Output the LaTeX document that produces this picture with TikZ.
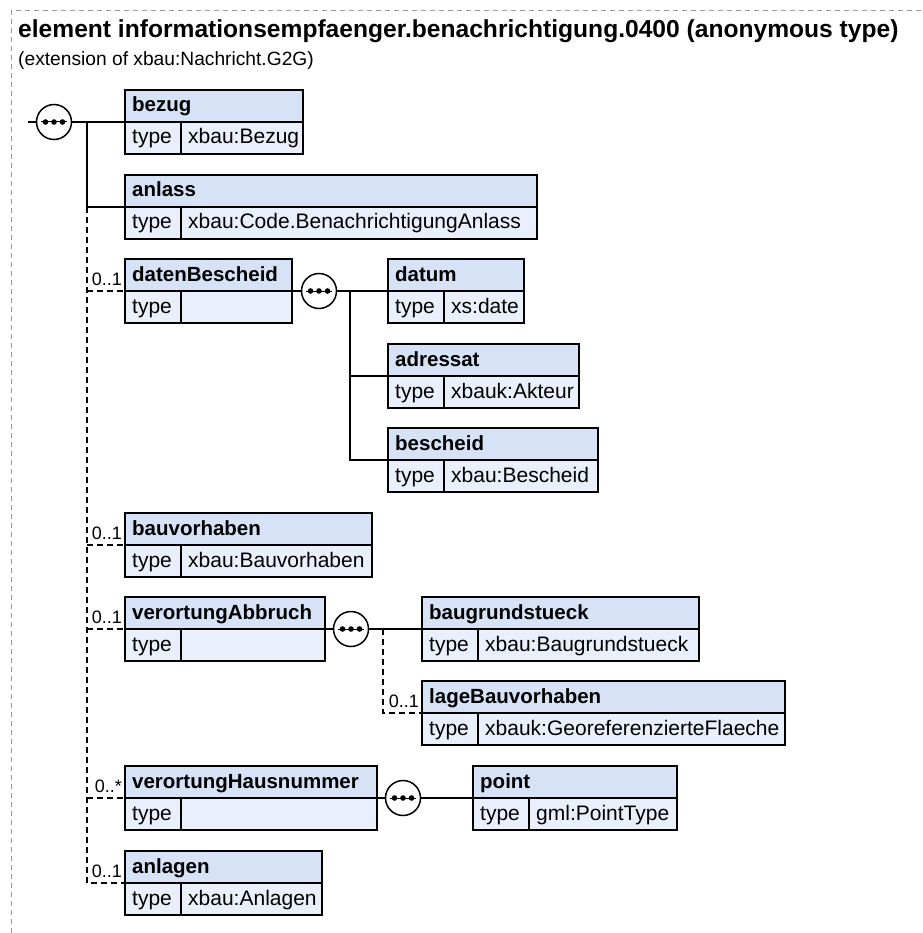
\documentclass[tikz,border=0pt]{standalone}
\usepackage{fontspec}
\setmainfont{Liberation Sans}
\definecolor{hdr}{HTML}{D6E2F6}
\definecolor{bdy}{HTML}{EAF0FB}
\definecolor{frm}{HTML}{9A9A9A}
\tikzset{
  boxshape/.style={rectangle, inner sep=0pt, outer sep=0pt, minimum height=64pt},
  boxline/.style={line width=1.5pt, draw=black},
  hdrtext/.style={font=\bfseries\fontsize{20.5}{24}\selectfont, inner sep=0pt},
  bodytext/.style={font=\fontsize{21}{24}\selectfont, inner sep=0pt},
  conn/.style={line width=1.5pt},
  dconn/.style={line width=1.5pt, dash pattern=on 6pt off 4pt},
  card/.style={font=\fontsize{18}{20}\selectfont, inner sep=0pt, anchor=base east},
  seqsym/.style={circle, draw, line width=1.5pt, fill=white, minimum size=35pt, inner sep=0pt},
  framestyle/.style={draw=frm, line width=1pt, dash pattern=on 5pt off 4pt}
}
\newcommand\elbox[6]{%
 \node[boxshape, minimum width=#4pt, anchor=north west] (#1) at (#2,#3) {};
 \fill[hdr] (#1.north west) rectangle (#1.east);
 \fill[bdy] (#1.west) rectangle (#1.south east);
 \draw[boxline] (#1.west) -- (#1.east) ([xshift=56pt]#1.west) -- ([xshift=56pt]#1.south west);
 \draw[boxline] (#1.north west) rectangle (#1.south east);
 \node[hdrtext, anchor=base west] (#1-name) at ([xshift=7pt,yshift=-22pt]#1.north west) {#5};
 \node[bodytext, anchor=base west] (#1-key) at ([xshift=7pt,yshift=-54pt]#1.north west) {type};
 \node[bodytext, anchor=base west] (#1-type) at ([xshift=63pt,yshift=-54pt]#1.north west) {#6};
}
\newcommand\seqnode[3]{%
 \node[seqsym] (#1) at (#2,#3) {};
 \draw[line width=1pt] ([xshift=-13pt]#1.center) -- ([xshift=13pt]#1.center);
 \foreach \dx in {-8.5,0,8.5} \fill ([xshift=\dx pt]#1.center) circle (2.8pt);
}
\begin{document}
\begin{tikzpicture}[x=1pt,y=-1pt]
\useasboundingbox (0,0) rectangle (922,933);
\draw[framestyle] (11,933) -- (11,11) -- (922,11);
\node[font=\bfseries\fontsize{24.6}{28}\selectfont, inner sep=0pt, anchor=base west] (title) at (18,38) {element informationsempfaenger.benachrichtigung.0400 (anonymous type)};
\node[font=\fontsize{19.2}{22}\selectfont, inner sep=0pt, anchor=base west] (subtitle) at (18,66) {(extension of xbau:Nachricht.G2G)};

\elbox{bezug}{125}{90}{178}{bezug}{xbau:Bezug}
\elbox{anlass}{125}{175}{412}{anlass}{xbau:Code.BenachrichtigungAnlass}
\elbox{datenBescheid}{125}{259}{167}{datenBescheid}{}
\elbox{datum}{388}{259}{136}{datum}{xs:date}
\elbox{adressat}{388}{344}{191}{adressat}{xbauk:Akteur}
\elbox{bescheid}{388}{428}{210}{bescheid}{xbau:Bescheid}
\elbox{bauvorhaben}{125}{513}{247}{bauvorhaben}{xbau:Bauvorhaben}
\elbox{verortungAbbruch}{125}{597}{200}{verortungAbbruch}{}
\elbox{baugrundstueck}{422}{597}{277}{baugrundstueck}{xbau:Baugrundstueck}
\elbox{lageBauvorhaben}{422}{681}{363}{lageBauvorhaben}{xbauk:GeoreferenzierteFlaeche}
\elbox{verortungHausnummer}{125}{766}{252}{verortungHausnummer}{}
\elbox{point}{473}{766}{204}{point}{gml:PointType}
\elbox{anlagen}{125}{851}{197}{anlagen}{xbau:Anlagen}

\seqnode{s1}{54}{122}
\seqnode{s2}{319}{291}
\seqnode{s3}{351}{629}
\seqnode{s4}{403}{798}

% main sequence
\coordinate (in) at (28,122);
\coordinate (tr1) at (87,122);
\draw[conn] (in) -- (s1);
\draw[conn] (s1) -- (bezug.west);
\draw[conn] (tr1) |- (anlass.west);
\draw[dconn] (tr1 |- anlass.west) |- (anlagen.west);
\foreach \n in {datenBescheid,bauvorhaben,verortungAbbruch,verortungHausnummer}
  \draw[dconn] (tr1 |- \n.west) -- (\n.west);
\node[card] (c1) at ([xshift=-3pt,yshift=6pt]datenBescheid.west) {0..1};
\node[card] (c2) at ([xshift=-3pt,yshift=6pt]bauvorhaben.west) {0..1};
\node[card] (c3) at ([xshift=-3pt,yshift=6pt]verortungAbbruch.west) {0..1};
\node[card] (c4) at ([xshift=-3pt,yshift=6pt]verortungHausnummer.west) {0..*};
\node[card] (c5) at ([xshift=-3pt,yshift=6pt]anlagen.west) {0..1};

% datenBescheid sequence
\coordinate (tr2) at (350,291);
\draw[conn] (datenBescheid.east) -- (s2);
\draw[conn] (s2) -- (datum.west);
\draw[conn] (tr2) |- (bescheid.west);
\draw[conn] (tr2 |- adressat.west) -- (adressat.west);

% verortungAbbruch sequence
\coordinate (tr3) at (383,629);
\draw[conn] (verortungAbbruch.east) -- (s3);
\draw[conn] (s3) -- (baugrundstueck.west);
\draw[dconn] (tr3) |- (lageBauvorhaben.west);
\node[card] (c6) at ([xshift=-3pt,yshift=6pt]lageBauvorhaben.west) {0..1};

% verortungHausnummer sequence
\draw[conn] (verortungHausnummer.east) -- (s4);
\draw[conn] (s4) -- (point.west);
\end{tikzpicture}
\end{document}
